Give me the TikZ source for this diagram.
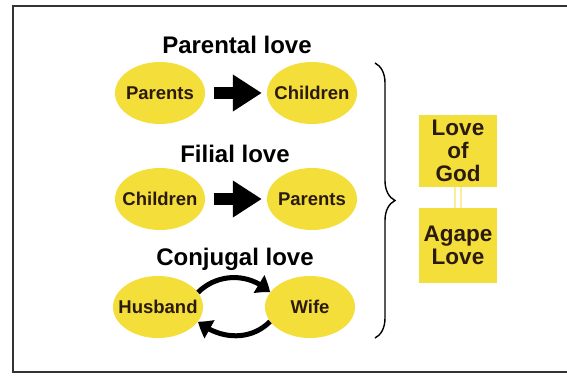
\documentclass[tikz,border=0pt]{standalone}
\usepackage{fontspec}
\setmainfont{Liberation Sans}
\usetikzlibrary{arrows.meta, bending, shapes.geometric, decorations.pathreplacing, positioning}
\definecolor{loveyellow}{HTML}{F3DE3A}
\definecolor{paleyellow}{HTML}{F8EE9E}
\definecolor{inkbrown}{HTML}{2B1A0E}
\newcommand{\lbl}[1]{\makebox[0pt]{#1}}

\begin{document}
\begin{tikzpicture}[x=1pt,y=1pt,node distance=152pt,
  love/.style={ellipse, fill=loveyellow, minimum width=90pt, minimum height=62pt,
    inner sep=0pt, text=inkbrown, font=\fontsize{18.5}{20}\selectfont\bfseries},
  title/.style={anchor=base, font=\fontsize{24}{26}\selectfont\bfseries},
  godbox/.style={rectangle, fill=loveyellow, minimum width=78pt, inner sep=0pt,
    align=center, text=inkbrown, font=\fontsize{22.5}{23}\selectfont\bfseries},
  fat/.style={line width=12pt, -{Triangle[length=29pt,width=35pt]},
    shorten <=9pt, shorten >=5pt},
  swing/.style={line width=5pt, -{Triangle[bend,length=14pt,width=20pt]}}]

\useasboundingbox (0,0) rectangle (567,-375);
\draw[line width=2pt, black!80] (12.5,-5.5) rectangle (568,-372);

% define the kinds of love
  \node[title] (tpar) at (237,-53)  {Parental love};
  \node[title] (tfil) at (235,-162) {Filial love};
  \node[title] (tcon) at (235,-265) {Conjugal love};

% define the ellipses
  \node[love] (p1) at (160,-93)  {\lbl{Parents}};
  \node[love] (c1) [right of=p1] {\lbl{Children}};
  \node[love] (c2) at (160,-199) {\lbl{Children}};
  \node[love] (p2) [right of=c2] {\lbl{Parents}};
  \node[love] (h3) at (158,-307) {\lbl{Husband}};
  \node[love] (w3) [right of=h3] {\lbl{Wife}};

% define the boxes
  \node[godbox, minimum height=72pt] (god)   at (458,-151)   {Love\\of\\God};
  \node[godbox, minimum height=75pt] (agape) at (458,-245.5) {Agape\\Love};

% define the links
  \draw[fat] (p1) -- (c1);
  \draw[fat] (c2) -- (p2);
  \draw[swing] (h3.20) to[out=45,in=135] (w3.160);
  \draw[swing] (w3.200) to[out=225,in=-40] (h3.340);
  \draw[paleyellow, line width=2pt, double=white, double distance=4pt] (god) -- (agape);

% the brace
  \coordinate (btop) at (375,-63);
  \coordinate (bbot) at (375,-338);
  \draw[line width=1.4pt, decorate, decoration={brace, amplitude=20pt}] (btop) -- (bbot);

\end{tikzpicture}
\end{document}
